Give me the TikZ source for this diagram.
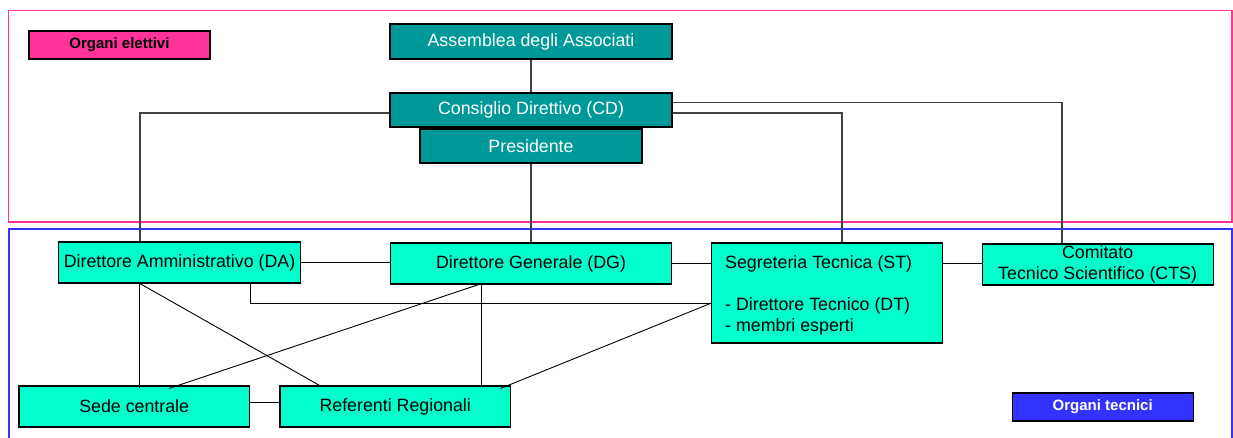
\documentclass[tikz,border=0pt]{standalone}
\usepackage{fontspec}
\setmainfont{Liberation Sans}
\definecolor{pinkc}{HTML}{FF3399}
\definecolor{tealc}{HTML}{009999}
\definecolor{aquac}{HTML}{00FFCC}
\definecolor{bluec}{HTML}{3333FF}
\definecolor{connc}{HTML}{404040}
\begin{document}
\begin{tikzpicture}[x=1pt,y=-1pt,
  elet/.style={draw=black,line width=1.2pt,fill=tealc,text=white,inner sep=0pt,font=\fontsize{17.8}{21}\selectfont},
  tecn/.style={draw=black,line width=1.2pt,fill=aquac,text=black,inner sep=0pt,font=\fontsize{17.8}{21}\selectfont},
  sttext/.style={anchor=west,font=\fontsize{17.8}{21}\selectfont,inner sep=0pt},
  legend/.style={draw=black,line width=1.2pt,inner sep=0pt,font=\fontsize{15}{17}\selectfont\bfseries,minimum width=181pt,minimum height=28pt},
  conn/.style={draw=connc,line width=1.1pt},
  connb/.style={draw=black,line width=0.9pt}]
\useasboundingbox (0,0) rectangle (1233,437);
% frames
\draw[pinkc,line width=1.5pt] (8.5,10.7) rectangle (1232,222);
\draw[bluec,line width=2pt] (8.5,450) -- (8.5,229) -- (1232,229) -- (1232,450);
% helper coordinates
\coordinate (yl) at (0,113);
\coordinate (yh) at (0,102.7);
\coordinate (xda) at (140,0);
\coordinate (xst) at (842,0);
\coordinate (xcts) at (1062,0);
\coordinate (xda2) at (250,0);
\coordinate (y303) at (0,303.3);
\coordinate (xdg1) at (478.5,0);
\coordinate (xdg2) at (481,0);
\coordinate (xsd) at (169.2,0);
\coordinate (xrf1) at (319.5,0);
\coordinate (xrf2) at (500.6,0);
\coordinate (xda3) at (139.2,0);
\coordinate (ysr) at (0,402.7);
% nodes
\node[legend,fill=pinkc,text=black] (orgel) at (119.5,45) {Organi elettivi};
\node[legend,fill=bluec,text=white] (orgtec) at (1102.7,407) {Organi tecnici};
\node[elet,minimum width=282pt,minimum height=35pt] (ass) at (531,41.5) {Assemblea degli Associati};
\node[elet,minimum width=282pt,minimum height=34pt] (cd) at (531,110) {Consiglio Direttivo (CD)};
\node[elet,minimum width=222pt,minimum height=34pt] (pres) at (531,146) {Presidente};
\node[tecn,minimum width=242pt,minimum height=41pt] (da) at (179.5,262.5) {Direttore Amministrativo (DA)};
\node[tecn,minimum width=281pt,minimum height=41pt] (dg) at (531,263.5) {Direttore Generale (DG)};
\node[tecn,minimum width=231pt,minimum height=100pt] (st) at (826.9,293) {};
\node[sttext] (sttxt1) at (725,263.5) {Segreteria Tecnica (ST)};
\node[sttext] (sttxt2) at (725,306) {- Direttore Tecnico (DT)};
\node[sttext] (sttxt3) at (725,327) {- membri esperti};
\node[tecn,minimum width=231pt,minimum height=41pt,align=center] (cts) at (1097.6,264.5) {Comitato\\Tecnico Scientifico (CTS)};
\node[tecn,minimum width=230.5pt,minimum height=41pt] (sede) at (134.2,406.5) {Sede centrale};
\node[tecn,minimum width=230.5pt,minimum height=41pt] (ref) at (395.2,406.5) {Referenti Regionali};
% upper connectors
\draw[conn] (ass) -- (cd);
\draw[conn] (pres) -- (dg);
\draw[conn] (cd.west |- yl) -| (xda |- da.north);
\draw[conn] (cd.east |- yl) -| (xst |- st.north);
\draw[conn] (cd.east |- yh) -| (xcts |- cts.north);
% lower connectors
\draw[connb] (da.east) -- (da.east -| dg.west);
\draw[connb] (dg.east) -- (dg.east -| st.west);
\draw[connb] (st.east |- dg.east) -- (cts.west |- dg.east);
\draw[connb] (xda2 |- da.south) |- (st.west |- y303);
\draw[connb] (xda3 |- da.south) -- ([yshift=-3pt]xda3 |- sede.north);
\draw[connb] (xda |- da.south) -- (xrf1 |- ref.north);
\draw[connb] (xdg1 |- dg.south) -- ([yshift=-3pt]xsd |- sede.north);
\draw[connb] (xdg2 |- dg.south) -- (xdg2 |- ref.north);
\draw[connb] (st.west |- y303) -- ([yshift=-3pt]xrf2 |- ref.north);
\draw[connb] (sede.east |- ysr) -- (ref.west |- ysr);
\end{tikzpicture}
\end{document}
